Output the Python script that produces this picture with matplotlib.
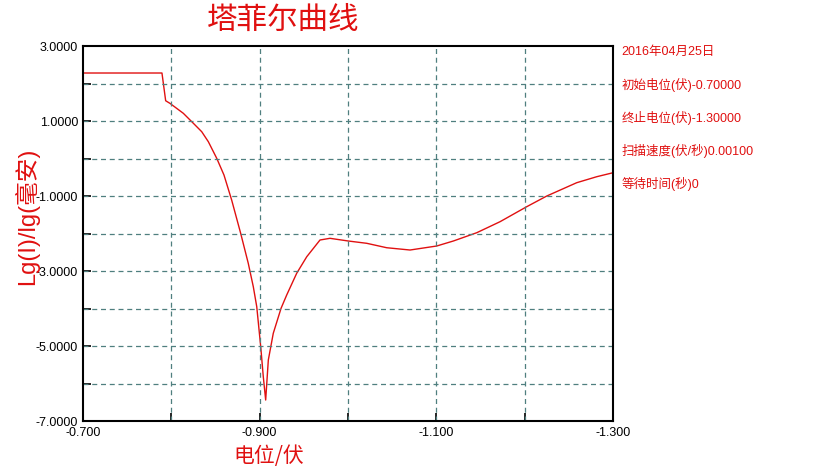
import numpy as np
import matplotlib
matplotlib.use('Agg')
import matplotlib.pyplot as plt
from matplotlib.ticker import FixedLocator, FormatStrFormatter

plt.rcParams['font.family'] = ['Liberation Sans', 'Noto Sans CJK SC']
plt.rcParams['axes.unicode_minus'] = False

# 电位 (V) 与 Lg(I) 读数
potential = [-0.700, -0.7894, -0.7936, -0.7985, -0.8136, -0.8249, -0.8344, -0.8419,
             -0.8514, -0.8596, -0.8683, -0.8785, -0.8871, -0.8928, -0.8967, -0.9012,
             -0.9041, -0.9068, -0.9098, -0.9154, -0.9242, -0.9306, -0.9419, -0.9533,
             -0.9683, -0.9796, -1.0004, -1.0212, -1.0438, -1.0702, -1.1004, -1.1192,
             -1.1457, -1.1721, -1.2023, -1.2250, -1.2589, -1.2816, -1.3000]
lg_current = [2.28, 2.28, 1.54, 1.47, 1.205, 0.94, 0.715, 0.448,
              0.005, -0.44, -1.107, -1.995, -2.795, -3.419, -3.952, -5.019,
              -5.819, -6.44, -5.373, -4.661, -3.995, -3.64, -3.061, -2.619,
              -2.173, -2.128, -2.20, -2.261, -2.379, -2.44, -2.333, -2.20,
              -1.979, -1.685, -1.285, -1.00, -0.645, -0.485, -0.379]

y_major = [3, 1, -1, -3, -5, -7]
y_minor = [2, 0, -2, -4, -6]
x_major = [-0.7, -0.9, -1.1, -1.3]
x_minor = [-0.8, -1.0, -1.2]

info_lines = ['2016年04月25日', '初始电位(伏)-0.70000', '终止电位(伏)-1.30000',
              '扫描速度(伏/秒)0.00100', '等待时间(秒)0']

fig = plt.figure(figsize=(8.2, 4.69), dpi=100)
ax = fig.add_axes([0.1012, 0.1023, 0.6464, 0.7996])

ax.plot(potential, lg_current, color='#e01010', lw=1.0)

ax.set_xlim(-0.7, -1.3)
ax.set_ylim(-7, 3)
ax.xaxis.set_major_locator(FixedLocator(x_major))
ax.xaxis.set_minor_locator(FixedLocator(x_minor))
ax.yaxis.set_major_locator(FixedLocator(y_major))
ax.yaxis.set_minor_locator(FixedLocator(y_minor))
ax.xaxis.set_major_formatter(FormatStrFormatter('%.3f'))
ax.yaxis.set_major_formatter(FormatStrFormatter('%.4f'))
ax.tick_params(which='both', direction='in', length=6, width=1.2, labelsize=9, colors='black')
ax.tick_params(axis='x', pad=4)

grid_kw = dict(color='#4f7f7f', lw=0.9, linestyle=(0, (4, 3)))
for v in x_major[1:-1] + x_minor:
    ax.axvline(v, **grid_kw)
for v in y_major[1:-1] + y_minor:
    ax.axhline(v, **grid_kw)

for s in ax.spines.values():
    s.set_linewidth(1.5)

ax.set_xlabel('电位/伏', color='#e01010', fontsize=15, family=['Noto Sans CJK SC'], labelpad=2)
ax.xaxis.set_label_coords(0.35, -0.065)
ax.set_ylabel('Lg(I)/lg(毫安)', color='#e01010', fontsize=17, family=['Liberation Sans', 'Noto Sans CJK SC'])
ax.yaxis.set_label_coords(-0.082, 0.545)

fig.text(0.345, 0.957, '塔菲尔曲线', color='#e01010', fontsize=22, ha='center', va='center',
         family=['Noto Sans CJK SC'], fontweight='light', style='italic')

for i, line in enumerate(info_lines):
    fig.text(0.758, 0.889 - i * 0.0705, line, color='#e01010', fontsize=9, va='center')

fig.savefig('out.png', dpi=100)
